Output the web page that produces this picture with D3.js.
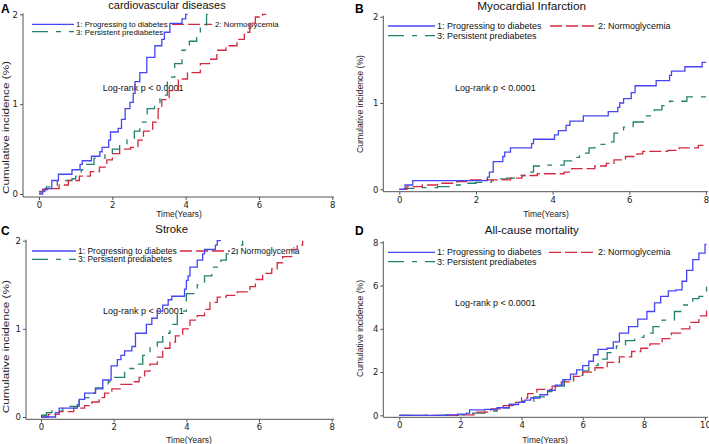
<!DOCTYPE html>
<html><head><meta charset="utf-8">
<script src="https://cdn.jsdelivr.net/npm/d3@7"></script>
<style>
body{margin:0;background:#fff}
svg{display:block;font-family:"Liberation Sans",Arial,sans-serif}
</style></head>
<body><svg id="c" width="709" height="444"></svg>
<script>
// ---- data: [time (years), cumulative incidence (%)] ----
const seriesNames = ["1: Progressing to diabetes", "2: Normoglycemia", "3: Persistent prediabetes"];
const panelTitles = ["cardiovascular diseases", "Myocardial Infarction", "Stroke", "All-cause mortality"];
const panelLetters = ["A", "B", "C", "D"];
const xTicksShort = [0, 2, 4, 6, 8];
const xTicksLong = [0, 2, 4, 6, 8, 10];
const yTicksSmall = [0, 1, 2];
const yTicksMort = [0, 2, 4, 6, 8];
const pText = "Log-rank p < 0.0001";

const cvdProg = [[0,0],[0.1,0.03],[0.16,0.06],[0.35,0.15],[0.53,0.22],[0.9,0.27],[1.12,0.33],[1.18,0.37],[1.43,0.42],[1.66,0.47],[1.72,0.52],[1.9,0.6],[1.95,0.69],[2.16,0.73],[2.25,0.83],[2.35,0.95],[2.48,1.02],[2.57,1.12],[2.62,1.25],[2.75,1.35],[2.94,1.52],[3.16,1.65],[3.35,1.72],[3.42,1.8],[3.57,1.9],[3.9,1.95],[4.0,2.0],[4.05,2.0]];
const cvdNormo = [[0,0.02],[0.1,0.05],[0.3,0.06],[0.55,0.1],[0.8,0.15],[1.1,0.2],[1.4,0.25],[1.65,0.3],[1.85,0.38],[2.0,0.45],[2.2,0.5],[2.5,0.52],[2.7,0.6],[2.85,0.7],[3.1,0.8],[3.25,0.95],[3.35,1.05],[3.55,1.15],[3.8,1.28],[4.05,1.35],[4.4,1.45],[4.65,1.5],[4.85,1.6],[5.1,1.65],[5.4,1.72],[5.6,1.8],[5.75,1.9],[5.9,1.97],[6.1,2.0],[6.2,2.0]];
const cvdPersist = [[0,0.03],[0.1,0.05],[0.2,0.08],[0.5,0.15],[0.9,0.17],[1.0,0.2],[1.15,0.27],[1.3,0.33],[1.5,0.4],[1.8,0.45],[2.0,0.5],[2.2,0.56],[2.4,0.62],[2.6,0.7],[2.75,0.8],[2.95,0.95],[3.15,1.0],[3.3,1.1],[3.5,1.3],[3.7,1.45],[3.9,1.6],[4.1,1.7],[4.3,1.75],[4.4,1.85],[4.57,2.0],[4.6,2.0]];

const miProg = [[0,0],[0.15,0.05],[0.35,0.1],[2.3,0.14],[2.35,0.2],[2.45,0.32],[2.7,0.38],[2.75,0.43],[2.9,0.48],[3.45,0.53],[3.5,0.58],[4.05,0.63],[4.15,0.68],[4.35,0.74],[4.45,0.79],[4.8,0.85],[5.45,0.9],[5.7,0.95],[5.75,1.0],[5.85,1.05],[6.05,1.12],[6.15,1.2],[6.7,1.26],[7.05,1.32],[7.1,1.37],[7.45,1.42],[7.9,1.47],[8.0,1.47]];
const miNormo = [[0,0],[0.2,0.03],[0.6,0.05],[1.0,0.07],[1.5,0.09],[1.75,0.11],[2.9,0.13],[3.2,0.16],[3.6,0.18],[4.3,0.2],[4.5,0.24],[5.1,0.27],[5.4,0.3],[5.6,0.34],[5.9,0.38],[6.2,0.41],[6.35,0.44],[7.0,0.45],[7.3,0.48],[7.8,0.51],[8.0,0.51]];
const miPersist = [[0,0],[0.15,0.01],[0.5,0.02],[1.0,0.03],[1.3,0.05],[1.75,0.07],[2.0,0.08],[2.4,0.1],[2.6,0.12],[2.8,0.13],[3.0,0.16],[3.3,0.2],[3.5,0.27],[3.8,0.28],[4.3,0.33],[4.5,0.37],[4.7,0.42],[4.95,0.48],[5.1,0.52],[5.4,0.55],[5.6,0.65],[5.85,0.72],[6.1,0.78],[6.4,0.85],[6.65,0.92],[6.85,0.97],[7.05,1.02],[7.5,1.07],[8.0,1.07]];

const stProg = [[0,0],[0.4,0.05],[0.5,0.1],[1.0,0.14],[1.05,0.2],[1.2,0.27],[1.5,0.32],[1.7,0.42],[1.93,0.58],[2.1,0.65],[2.2,0.7],[2.3,0.75],[2.5,0.8],[2.6,0.95],[2.9,1.05],[3.05,1.12],[3.2,1.2],[3.35,1.27],[3.5,1.33],[3.6,1.37],[3.95,1.45],[4.0,1.55],[4.05,1.6],[4.1,1.7],[4.3,1.78],[4.45,1.85],[4.5,1.9],[4.8,1.95],[4.85,2.0],[4.95,2.0]];
const stNormo = [[0,0],[0.2,0.03],[0.5,0.06],[0.9,0.1],[1.2,0.13],[1.4,0.17],[1.6,0.22],[1.75,0.27],[1.95,0.32],[2.2,0.37],[2.5,0.4],[2.7,0.45],[2.85,0.52],[3.0,0.6],[3.2,0.68],[3.35,0.78],[3.55,0.85],[3.7,0.92],[3.9,1.0],[4.1,1.1],[4.3,1.15],[4.5,1.22],[4.65,1.3],[4.85,1.36],[5.1,1.38],[5.4,1.42],[5.75,1.48],[5.9,1.56],[6.1,1.63],[6.35,1.68],[6.5,1.75],[6.65,1.82],[6.9,1.9],[7.05,1.95],[7.2,2.0]];
const stPersist = [[0,0.02],[0.15,0.05],[0.3,0.07],[0.6,0.1],[0.8,0.12],[1.05,0.18],[1.2,0.22],[1.35,0.27],[1.5,0.33],[1.7,0.35],[1.85,0.4],[2.0,0.45],[2.3,0.55],[2.55,0.6],[2.8,0.7],[3.0,0.8],[3.2,0.85],[3.35,0.95],[3.55,1.05],[3.75,1.2],[4.0,1.4],[4.3,1.5],[4.5,1.6],[4.7,1.7],[4.95,1.78],[5.1,1.85],[5.4,1.95],[5.55,2.0]];

const mortProg = [[0,0],[1.5,0.02],[1.9,0.05],[2.2,0.1],[2.3,0.25],[2.8,0.27],[3.2,0.35],[3.6,0.5],[3.9,0.6],[4.1,0.7],[4.3,0.8],[4.6,0.95],[4.85,1.15],[5.1,1.4],[5.35,1.65],[5.6,1.9],[5.8,2.1],[6.0,2.3],[6.2,2.5],[6.35,2.8],[6.5,3.05],[6.8,3.1],[7.0,3.4],[7.2,3.8],[7.5,4.1],[7.8,4.45],[8.1,4.8],[8.35,5.2],[8.55,5.5],[8.8,5.75],[9.05,5.8],[9.25,6.2],[9.4,6.7],[9.6,7.2],[9.8,7.5],[10.0,7.9],[10.05,7.9]];
const mortNormo = [[0,0],[2.0,0.02],[2.5,0.15],[3.0,0.3],[3.4,0.45],[3.8,0.6],[4.0,0.8],[4.2,1.0],[4.5,1.2],[5.0,1.35],[5.3,1.55],[5.7,1.8],[6.0,2.0],[6.4,2.2],[6.8,2.45],[7.2,2.7],[7.6,2.95],[7.9,3.1],[8.2,3.3],[8.6,3.55],[8.9,3.8],[9.2,4.0],[9.5,4.3],[9.8,4.6],[10.05,4.85]];
const mortPersist = [[0,0],[1.8,0.02],[2.4,0.1],[2.8,0.2],[3.2,0.35],[3.6,0.5],[4.0,0.65],[4.4,0.85],[4.8,1.1],[5.1,1.35],[5.4,1.6],[5.7,1.85],[6.0,2.05],[6.2,2.3],[6.5,2.6],[6.8,2.9],[7.1,3.2],[7.4,3.45],[7.7,3.6],[8.0,3.8],[8.3,4.1],[8.6,4.4],[9.0,4.8],[9.3,5.1],[9.6,5.4],[9.8,5.5],[10.05,5.95]];

// ---- layout (pixel boxes) ----
const panels = [
  {data:[cvdProg,cvdNormo,cvdPersist], xd:[0,8], xr:[39,332.3], yd:[0,2], yr:[194,14.3], yAxisX:23, xAxisY:197, xEnd:334, xt:xTicksShort, yt:yTicksSmall,
   letter:[1,13], title:[167,8.5,11], p:[102.7,90.5], leg:{y1:24.3,y2:31.7,x0:32,x1:74,tx:76,rx0:172,rx1:212,rtx:215,fs:7.9},
   ylab:{x:9,y:127.5,len:133,fs:9.5}, xlab:[179,217]},
  {data:[miProg,miNormo,miPersist], xd:[0,8], xr:[399.3,706], yd:[0,2], yr:[189.3,16.7], yAxisX:383.3, xAxisY:191.7, xEnd:708, xt:xTicksShort, yt:yTicksSmall,
   letter:[355,13], title:[531.7,10,11.8], p:[455,90.5], leg:{y1:26,y2:35.7,x0:388,x1:435,tx:437,rx0:550,rx1:594,rtx:598,fs:9},
   ylab:{x:362.5,y:104,len:98,fs:8.8}, xlab:[546,216.5]},
  {data:[stProg,stNormo,stPersist], xd:[0,8], xr:[41,331.7], yd:[0,2], yr:[417,240.7], yAxisX:26, xAxisY:419.3, xEnd:334, xt:xTicksShort, yt:yTicksSmall,
   letter:[1,235], title:[171.7,233,11.3], p:[103,314], leg:{y1:251,y2:259.3,x0:32,x1:76,tx:78,rx0:180,rx1:230,rtx:231,fs:8.5},
   ylab:{x:9,y:346.7,len:133,fs:9.5}, xlab:[189,443]},
  {data:[mortProg,mortNormo,mortPersist], xd:[0,10], xr:[399.3,705], yd:[0,8], yr:[415.3,242.3], yAxisX:383.3, xAxisY:417.3, xEnd:708, xt:xTicksLong, yt:yTicksMort,
   letter:[355,235], title:[531.7,233.5,11.5], p:[455,306], leg:{y1:252.3,y2:261.7,x0:388,x1:435,tx:437,rx0:549,rx1:595,rtx:598,fs:9},
   ylab:{x:362.5,y:328.5,len:97,fs:8.8}, xlab:[545,443]}
];

const colors = ["#4646f5", "#d42a40", "#23806f"];
const dashes = [null, "12,4", "16,8,5,8"];
const axisColor = "#555";

const svg = d3.select("#c");

panels.forEach((P, i) => {
  const g = svg.append("g");
  const x = d3.scaleLinear().domain(P.xd).range(P.xr);
  const y = d3.scaleLinear().domain(P.yd).range(P.yr);

  // x axis
  const xa = g.append("g").attr("transform", `translate(0,${P.xAxisY})`)
    .call(d3.axisBottom(x).tickValues(P.xt).tickSize(3).tickPadding(2).tickFormat(d3.format("d")));
  xa.select(".domain").attr("d", `M${P.yAxisX},0H${P.xEnd}`).attr("stroke", axisColor);
  xa.selectAll(".tick line").attr("stroke", axisColor);
  xa.selectAll("text").attr("font-size", 8.5).attr("fill", "#222").attr("font-family", "DejaVu Sans, sans-serif");

  // y axis
  const ya = g.append("g").attr("transform", `translate(${P.yAxisX},0)`)
    .call(d3.axisLeft(y).tickValues(P.yt).tickSize(3).tickPadding(2).tickFormat(d3.format("d")));
  ya.select(".domain").attr("d", `M0,${P.yr[1] - 1}V${P.xAxisY}`).attr("stroke", axisColor);
  ya.selectAll(".tick line").attr("stroke", axisColor);
  ya.selectAll("text").attr("font-size", 8.5).attr("fill", "#222").attr("font-family", "DejaVu Sans, sans-serif");

  // labels
  g.append("text").attr("x", P.letter[0]).attr("y", P.letter[1]).text(panelLetters[i])
    .attr("font-size", 12).attr("font-weight", "bold").attr("fill", "#000");
  g.append("text").attr("x", P.title[0]).attr("y", P.title[1]).attr("text-anchor", "middle")
    .attr("font-size", P.title[2]).attr("fill", "#111").text(panelTitles[i]);
  g.append("text").attr("x", P.xlab[0]).attr("y", P.xlab[1]).attr("text-anchor", "middle")
    .attr("font-size", 8.5).attr("fill", "#222").text("Time(Years)");
  g.append("text").attr("transform", `translate(${P.ylab.x},${P.ylab.y}) rotate(-90)`)
    .attr("text-anchor", "middle").attr("font-size", P.ylab.fs).attr("fill", "#222")
    .attr("textLength", P.ylab.len).attr("lengthAdjust", "spacingAndGlyphs")
    .text("Cumulative incidence (%)");
  g.append("text").attr("x", P.p[0]).attr("y", P.p[1]).attr("font-size", 9).attr("fill", "#111").text(pText);

  // legend
  const L = P.leg;
  const legRows = [
    {x0:L.x0, x1:L.x1, y:L.y1, tx:L.tx},
    {x0:L.rx0, x1:L.rx1, y:L.y1, tx:L.rtx},
    {x0:L.x0, x1:L.x1, y:L.y2, tx:L.tx}
  ];
  legRows.forEach((r, k) => {
    g.append("line").attr("x1", r.x0).attr("x2", r.x1).attr("y1", r.y).attr("y2", r.y)
      .attr("stroke", colors[k]).attr("stroke-width", 1.3).attr("stroke-dasharray", dashes[k]);
    g.append("text").attr("x", r.tx).attr("y", r.y + 3).attr("font-size", L.fs).attr("fill", "#111").text(seriesNames[k]);
  });

  // curves
  const line = d3.line().x(d => x(d[0])).y(d => y(d[1])).curve(d3.curveStepAfter);
  [2, 1, 0].forEach(k => {
    g.append("path").datum(P.data[k]).attr("d", line).attr("fill", "none")
      .attr("stroke", colors[k]).attr("stroke-width", 1.3).attr("stroke-dasharray", dashes[k]);
  });
});
</script></body></html>
